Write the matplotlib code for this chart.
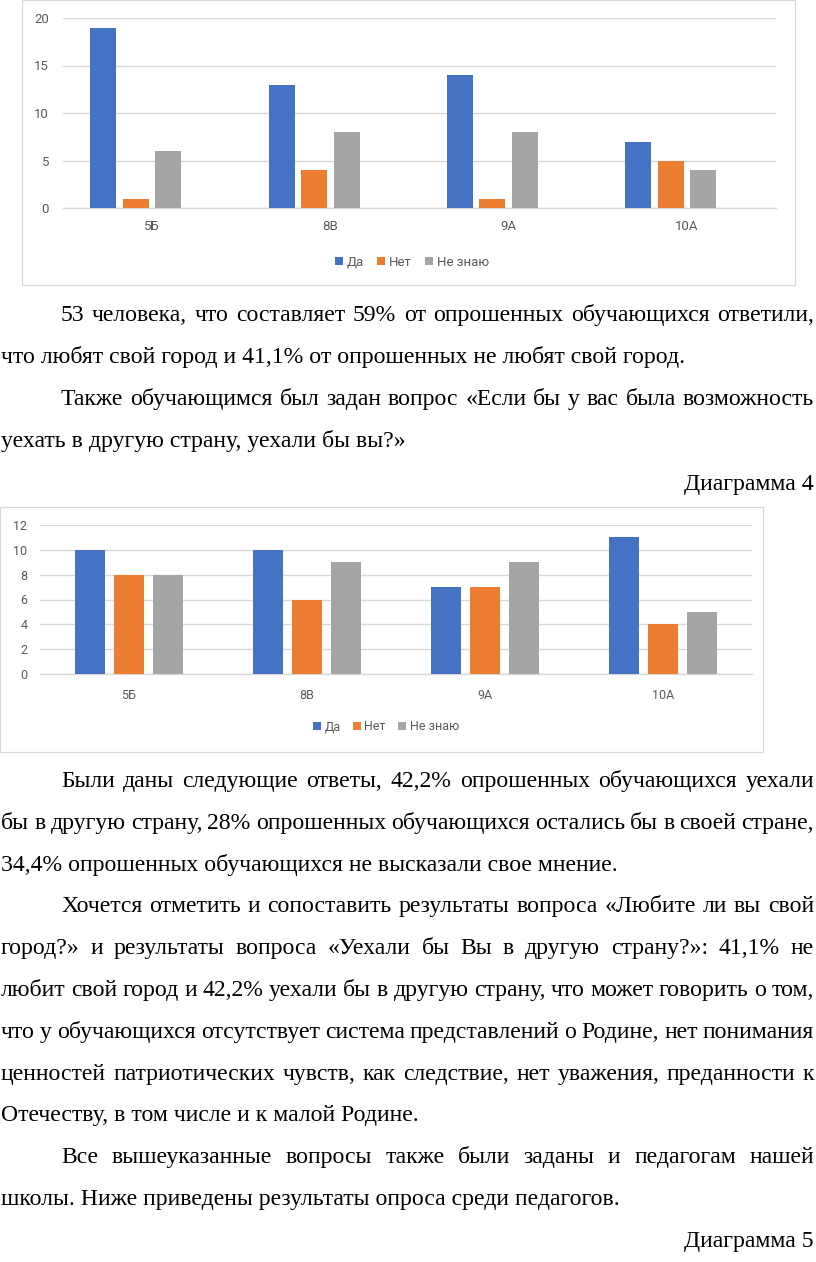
import matplotlib
matplotlib.use('Agg')
import matplotlib.pyplot as plt
from matplotlib.patches import Rectangle, Patch
import numpy as np

W, H, DPI = 816, 1262, 100

# ---------------- data ----------------
categories = ['5Б', '8В', '9А', '10А']
series_names = ['Да', 'Нет', 'Не знаю']
colors = ['#4472C4', '#ED7D31', '#A5A5A5']

chart1_da = [19, 13, 14, 7]
chart1_net = [1, 4, 1, 5]
chart1_neznayu = [6, 8, 8, 4]
chart1_yticks = [0, 5, 10, 15, 20]

chart2_da = [10, 10, 7, 11]
chart2_net = [8, 6, 7, 4]
chart2_neznayu = [8, 9, 9, 5]
chart2_yticks = [0, 2, 4, 6, 8, 10, 12]

block1_lines = [
    "53 человека, что составляет 59% от опрошенных обучающихся ответили,",
    "что любят свой город и 41,1% от опрошенных не любят свой город.",
    "Также обучающимся был задан вопрос «Если бы у вас была возможность",
    "уехать в другую страну, уехали бы вы?»",
]
caption1 = "Диаграмма 4"
block2_lines = [
    "Были даны следующие ответы, 42,2% опрошенных обучающихся уехали",
    "бы в другую страну, 28% опрошенных обучающихся остались бы в своей стране,",
    "34,4% опрошенных обучающихся не высказали свое мнение.",
    "Хочется отметить и сопоставить результаты вопроса «Любите ли вы свой",
    "город?» и результаты вопроса «Уехали бы Вы в другую страну?»: 41,1% не",
    "любит свой город и 42,2% уехали бы в другую страну, что может говорить о том,",
    "что у обучающихся отсутствует система представлений о Родине, нет понимания",
    "ценностей патриотических чувств, как следствие, нет уважения, преданности к",
    "Отечеству, в том числе и к малой Родине.",
    "Все вышеуказанные вопросы также были заданы и педагогам нашей",
    "школы. Ниже приведены результаты опроса среди педагогов.",
]
caption2 = "Диаграмма 5"

# ---------------- layout helpers ----------------
def fx(x):
    return x / W

def fy(y):
    return 1 - y / H

CHART_FONT = ['Roboto', 'Open Sans', 'DejaVu Sans']
SERIF = ['Liberation Serif', 'DejaVu Serif']
GRID = '#D9D9D9'
TICKC = '#595959'

fig = plt.figure(figsize=(W / DPI, H / DPI), dpi=DPI)
fig.patch.set_facecolor('white')

def frame(x0, y0, x1, y1):
    fig.add_artist(Rectangle((fx(x0), fy(y1)), fx(x1) - fx(x0), fy(y0) - fy(y1),
                             transform=fig.transFigure, fill=False,
                             edgecolor=GRID, lw=0.9))

def bar_chart(box, series, ymax, yticks, width, offsets, fs, xpad, ypad):
    left, top, right, bottom = box
    ax = fig.add_axes([fx(left), fy(bottom), fx(right) - fx(left), fy(top) - fy(bottom)])
    x = np.arange(len(categories))
    for vals, c, off in zip(series, colors, offsets):
        ax.bar(x + off, vals, width, color=c, zorder=3)
    ax.set_xlim(-0.5, len(categories) - 0.5)
    ax.set_ylim(0, ymax)
    ax.set_yticks(yticks)
    ax.set_xticks(x)
    ax.set_xticklabels(categories)
    ax.grid(axis='y', color=GRID, lw=1.0, zorder=0)
    for s in ['top', 'right', 'left']:
        ax.spines[s].set_visible(False)
    ax.spines['bottom'].set_color(GRID)
    ax.spines['bottom'].set_linewidth(1.0)
    ax.tick_params(axis='both', length=0, colors=TICKC, labelsize=fs)
    ax.tick_params(axis='y', pad=xpad)
    ax.tick_params(axis='x', pad=ypad)
    for lab in ax.get_xticklabels() + ax.get_yticklabels():
        lab.set_fontfamily(CHART_FONT)
    ax.set_facecolor('none')
    return ax

def legend_at(xc, yc, fs):
    handles = [Patch(facecolor=c, edgecolor='none') for c in colors]
    fig.legend(handles, series_names, loc='center', bbox_to_anchor=(fx(xc), fy(yc)),
               ncol=3, frameon=False, handlelength=0.6, handleheight=0.6,
               handletextpad=0.3, columnspacing=1.0,
               prop={'family': CHART_FONT, 'size': fs}, labelcolor=TICKC)

# ---------------- chart 1 ----------------
frame(22, 0, 795, 285)
p1 = 32.5 / 178.25
bar_chart((63, 18, 776, 208), [chart1_da, chart1_net, chart1_neznayu], 20,
          chart1_yticks, 26 / 178.25, [-1.5 * p1, -0.5 * p1, 0.5 * p1],
          9.5, 10, 9)
legend_at(412, 262, 9.5)

# ---------------- chart 2 ----------------
frame(0, 507, 763, 752)
p2 = 39 / 178.0
bar_chart((40, 525, 752, 674), [chart2_da, chart2_net, chart2_neznayu], 12,
          chart2_yticks, 30 / 178.0, [-p2, 0.0, p2],
          9, 9, 11)
legend_at(386, 727, 9)

# ---------------- text ----------------
fig.canvas.draw()
renderer = fig.canvas.get_renderer()

def width_of(s, fs):
    t = fig.text(0, 0, s, fontsize=fs, family=SERIF)
    w = t.get_window_extent(renderer=renderer).width
    t.remove()
    return w

FS = 16 * 406.0 / width_of(block1_lines[3], 16)
LEFT, RIGHT, INDENT = 1, 814, 60

def put_line(s, y, indent=False, justify=True):
    x0 = LEFT + (INDENT if indent else 0)
    if not justify:
        fig.text(fx(x0), fy(y), s, fontsize=FS, family=SERIF, va='baseline', ha='left')
        return
    words = s.split(' ')
    ws = [width_of(w, FS) for w in words]
    gap = (RIGHT - x0 - sum(ws)) / (len(words) - 1)
    x = x0
    for w, wd in zip(words, ws):
        fig.text(fx(x), fy(y), w, fontsize=FS, family=SERIF, va='baseline', ha='left')
        x += wd + gap

b1_y = [321, 363, 405, 447]
b1_fmt = [(True, True), (False, False), (True, True), (False, False)]
for s, y, (ind, jus) in zip(block1_lines, b1_y, b1_fmt):
    put_line(s, y, ind, jus)
fig.text(fx(RIGHT), fy(490), caption1, fontsize=FS, family=SERIF, va='baseline', ha='right')

b2_y = [787 + 41.8 * k for k in range(len(block2_lines))]
b2_fmt = [(True, True), (False, True), (False, False),
          (True, True), (False, True), (False, True), (False, True), (False, True), (False, False),
          (True, True), (False, False)]
for s, y, (ind, jus) in zip(block2_lines, b2_y, b2_fmt):
    put_line(s, y, ind, jus)
fig.text(fx(RIGHT), fy(1247), caption2, fontsize=FS, family=SERIF, va='baseline', ha='right')

fig.savefig('out.png', dpi=DPI)
